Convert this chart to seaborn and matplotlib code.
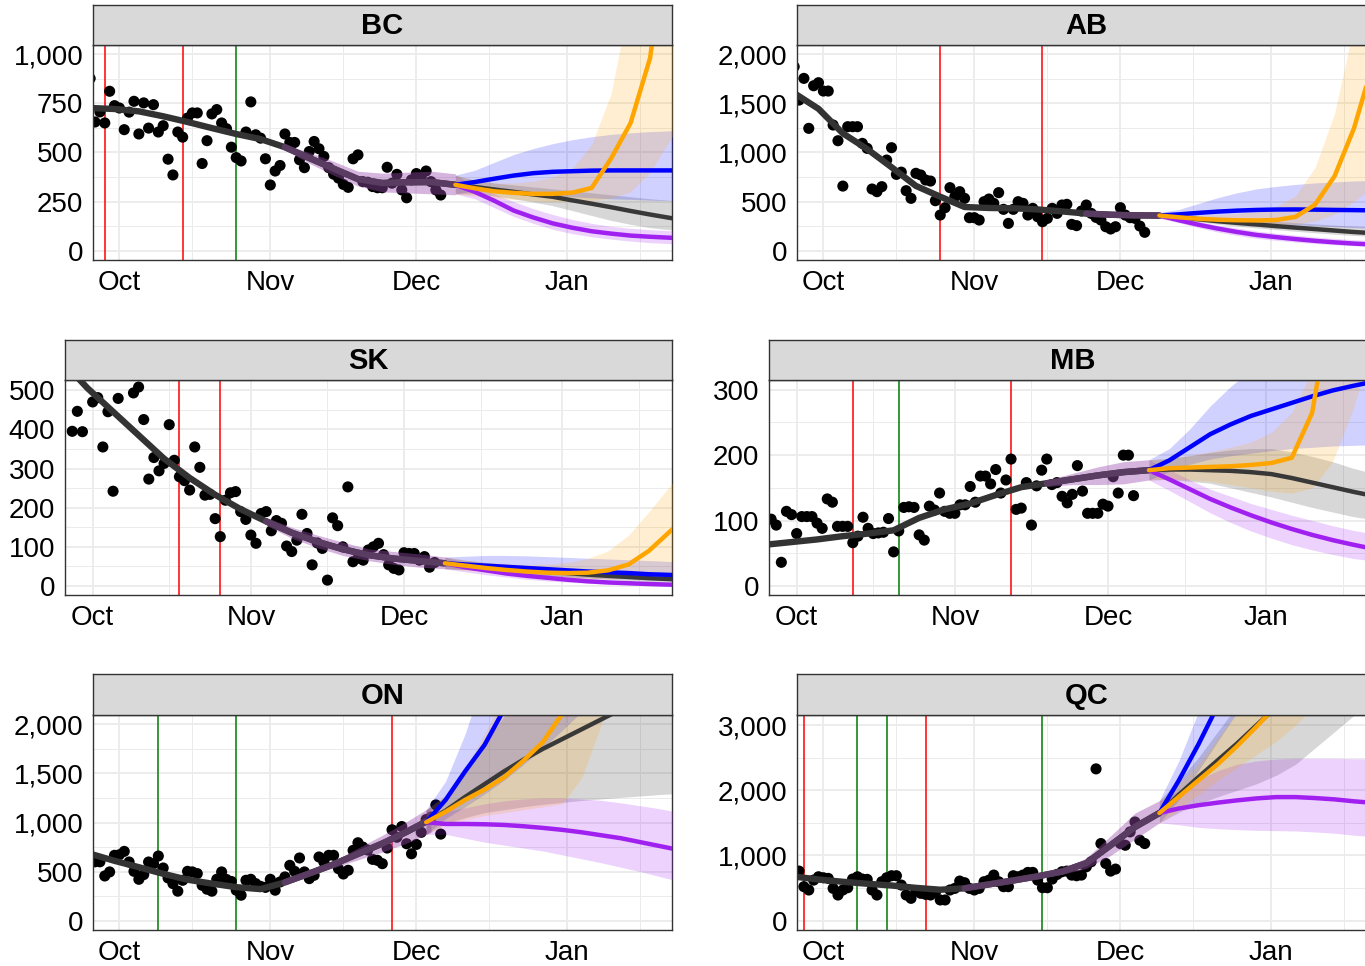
import numpy as np
import pandas as pd
import matplotlib
matplotlib.use("Agg")
import matplotlib.pyplot as plt
import matplotlib.dates as mdates
from matplotlib.ticker import FuncFormatter, MultipleLocator
import seaborn as sns

nan = np.nan

PROVINCES = ["BC", "AB", "SK", "MB", "ON", "QC"]

# daily cases, one value per day starting 2021-09-25 (nan = no report)
PTS_START = "2021-09-25"
BC_PTS = [876, 655, 706, 650, 811, 738,
          726, 616, 705, 760, 594, 752, 624, 743, 604, 636, 466, 386, 604, 578, 675, 701,
          701, 444, 560, 696, 718, 650, 621, 527, 474, 457, 604, 757, 590, 573, 468,
          335, 406, 434, 594, 551, 551, 463, 423, 505, 556, 519, 480, 423, 390, 370,
          338, 323, 468, 488, 352, 349, 327, 321, 321, 425, 344, 389, 310, 270, 361,
          393, 378, 406, 352, 310, 284]
AB_PTS = [1874, 1534, 1755, 1246, 1680, 1711,
          1626, 1626, 1280, 1120, 658, 1263, 1263, 1263, 1093, 1042, 628, 601, 652, 923, 1049,
          777, 800, 611, 533, 788, 771, 720, 709, 509, 363, 438, 642, 550, 601, 533, 336,
          336, 312, 499, 526, 482, 591, 421, 278, 421, 499, 482, 363, 431, 346, 295,
          329, 431, 380, 465, 472, 268, 255, 404, 465, 380, 339, 312, 244, 221, 244,
          438, 363, 336, 329, 251, 187]
SK_PTS = [nan, nan, 395, 446, 394, nan,
          470, 481, 355, 445, 242, 479, nan, nan, 493, 508, 425, 273, 328, 294, 313,
          412, 321, 279, 269, 245, 355, 303, 232, 234, 172, 126, 219, 238, 241, 190, 170,
          130, 109, 185, 190, 141, 167, 160, 102, 88, 117, 183, 134, 54, 110, 96,
          15, 174, 154, 100, 253, 62, 71, 66, 92, 100, 109, 80, 54, 45, 41,
          85, 83, 83, 66, 75, 48, 60]
MB_PTS = [nan, 102, 93, 36, 114, 109,
          80, 106, 106, 106, 96, 88, 133, 128, 91, 91, 91, 66, 76, 105, 88,
          80, 81, 82, 103, 52, 84, 120, 121, 120, 78, 70, 122, 116, 142, 114, 111,
          111, 124, 124, 152, 128, 168, 168, 156, 178, 142, 162, 194, 117, 119, 158,
          93, 153, 177, 194, 155, 158, 137, 127, 140, 184, 145, 111, 111, 111, 125,
          122, 167, 142, 200, 200, 138]
ON_PTS = [nan, 600, 600, 456, 497, 666,
          672, 706, 598, 503, 422, 470, 598, 581, 659, 537, 436, 378, 301, 412, 503,
          497, 480, 361, 321, 301, 422, 497, 420, 400, 311, 260, 412, 422, 378, 350, 340,
          422, 311, 395, 446, 564, 503, 639, 497, 429, 463, 649, 598, 666, 666, 530,
          476, 514, 716, 794, 750, 720, 625, 615, 581, 740, 926, 850, 959, 784, 682,
          777, 900, 1030, 1054, 1179, 882]
QC_PTS = [nan, 759, 520, 469, 621, 672,
          657, 647, 494, 392, 469, 504, 637, 672, 637, 632, 469, 392, 596, 657, 688,
          688, 545, 392, 341, 453, 418, 402, 392, 433, 316, 316, 469, 494, 606, 581, 494,
          469, 494, 596, 621, 698, 596, 520, 520, 688, 672, 698, 739, 739, 621, 504,
          504, 637, 708, 749, 759, 698, 688, 698, 825, 902, 2328, 1182, 876, 759, 790,
          1182, 1156, 1360, 1513, 1233, 1182]

# fitted curve over the observed period
FIT_DATES = ["2021-09-25", "2021-09-30", "2021-10-05", "2021-10-10", "2021-10-15",
             "2021-10-20", "2021-10-25", "2021-10-30", "2021-11-04", "2021-11-09",
             "2021-11-14", "2021-11-19", "2021-11-24", "2021-11-29", "2021-12-04",
             "2021-12-09"]
BC_FIT = [726, 721, 709, 684, 655, 624, 594, 568, 527, 472, 418, 365, 345, 349, 350, 336]
AB_FIT = [1605, 1445, 1195, 1035, 850, 660, 550, 445, 435, 432, 420, 400, 378, 366, 360, 358]
SK_FIT = [575, 505, 445, 385, 325, 276, 233, 196, 165, 136, 113, 94, 79, 70, 64, 58]
MB_FIT = [63, 67, 71, 76, 80, 85, 104, 117, 126, 139, 151, 157, 163, 169, 174, 177]
ON_FIT = [682, 610, 545, 478, 418, 378, 342, 322, 391, 481, 574, 680, 786, 905, 1035, nan]
QC_FIT = [675, 630, 595, 565, 538, 502, 473, 495, 555, 615, 679, 752, 880, 1156, 1436, 1650]

# scenario fits overlapping the end of the observed period (aligned to the tail of FIT_DATES)
BC_BAND_LO = [515, 445, 385, 330, 300, 295, 290, 285]
BC_BAND_HI = [540, 500, 455, 405, 395, 400, 405, 392]
AB_BAND_LO = [360, 345, 335, 330]
AB_BAND_HI = [395, 388, 388, 390]
SK_BAND_LO = [155, 122, 98, 78, 65, 55, 48, 44]
SK_BAND_HI = [175, 150, 130, 112, 95, 88, 82, 74]
MB_BAND_LO = [152, 155, 155, 156, 162]
MB_BAND_HI = [162, 172, 182, 190, 193]
ON_BAND_LO = [380, 460, 540, 620, 700, 790, 900, nan]
ON_BAND_HI = [400, 500, 610, 740, 870, 1010, 1160, nan]
QC_BAND_LO = [485, 540, 595, 645, 710, 800, 1000, 1250, 1500]
QC_BAND_HI = [505, 570, 640, 715, 800, 960, 1300, 1650, 1840]

# projections
PROJ_DATES = ["2021-12-09", "2021-12-13", "2021-12-17", "2021-12-21", "2021-12-25",
              "2021-12-29", "2022-01-02", "2022-01-06", "2022-01-10", "2022-01-14",
              "2022-01-18", "2022-01-23"]
ON_PROJ_DATES = ["2021-12-03", "2021-12-07", "2021-12-11", "2021-12-15", "2021-12-19",
                 "2021-12-23", "2021-12-27", "2021-12-31", "2022-01-04", "2022-01-08",
                 "2022-01-12", "2022-01-16", "2022-01-20", "2022-01-24"]

BC_BLUE = [336, 350, 367, 383, 395, 402, 405, 408, 409, 409, 409, 409]
BC_BLUE_LO = [290, 305, 305, 300, 290, 282, 275, 270, 265, 262, 258, 255]
BC_BLUE_HI = [385, 410, 450, 490, 520, 545, 565, 580, 592, 600, 606, 611]
BC_ORANGE = [336, 318, 303, 295, 290, 290, 296, 320, 470, 650, 980, 1900]
BC_ORANGE_LO = [290, 280, 270, 262, 255, 250, 250, 255, 270, 300, 400, 600]
BC_ORANGE_HI = [385, 360, 345, 345, 355, 375, 420, 540, 800, 1300, 2000, 3000]
BC_PURPLE = [336, 300, 255, 205, 170, 140, 118, 100, 88, 78, 72, 66]
BC_PURPLE_LO = [290, 265, 220, 175, 140, 110, 88, 72, 60, 50, 42, 36]
BC_PURPLE_HI = [385, 335, 290, 250, 215, 185, 160, 140, 125, 115, 108, 102]
BC_GREY = [336, 325, 312, 300, 287, 275, 257, 240, 222, 203, 185, 164]
BC_GREY_LO = [290, 290, 280, 265, 248, 230, 205, 180, 155, 135, 118, 105]
BC_GREY_HI = [385, 360, 345, 335, 325, 315, 305, 295, 285, 275, 265, 255]

AB_BLUE = [358, 370, 385, 398, 408, 415, 419, 420, 418, 415, 413, 410]
AB_BLUE_LO = [330, 328, 318, 305, 295, 285, 275, 265, 255, 245, 235, 225]
AB_BLUE_HI = [390, 420, 480, 540, 590, 630, 655, 675, 690, 700, 710, 716]
AB_ORANGE = [358, 340, 325, 315, 310, 308, 312, 345, 470, 760, 1250, 2100]
AB_ORANGE_LO = [330, 315, 300, 285, 275, 265, 262, 270, 300, 370, 500, 700]
AB_ORANGE_HI = [390, 370, 362, 365, 380, 400, 450, 560, 850, 1400, 2300, 3500]
AB_PURPLE = [358, 310, 265, 225, 190, 160, 138, 118, 100, 85, 72, 60]
AB_PURPLE_LO = [330, 285, 235, 190, 155, 125, 105, 88, 72, 60, 50, 42]
AB_PURPLE_HI = [390, 335, 295, 260, 230, 200, 178, 158, 140, 125, 112, 100]
AB_GREY = [358, 340, 320, 300, 283, 267, 250, 235, 220, 205, 190, 175]
AB_GREY_LO = [330, 315, 295, 270, 250, 232, 215, 198, 182, 168, 155, 143]
AB_GREY_HI = [390, 368, 352, 338, 325, 312, 298, 285, 272, 260, 250, 240]

SK_BLUE = [58, 55, 52, 49, 46, 43, 40, 37, 35, 33, 30, 28]
SK_BLUE_LO = [44, 42, 38, 33, 29, 26, 23, 21, 19, 18, 16, 15]
SK_BLUE_HI = [74, 76, 78, 78, 77, 75, 73, 71, 69, 67, 65, 62]
SK_ORANGE = [58, 52, 46, 41, 37, 34, 33, 34, 40, 55, 90, 150]
SK_ORANGE_LO = [44, 40, 36, 32, 27, 23, 20, 18, 18, 20, 25, 35]
SK_ORANGE_HI = [74, 66, 60, 57, 55, 56, 60, 70, 90, 130, 190, 270]
SK_PURPLE = [58, 48, 40, 32, 26, 21, 16, 12, 9, 7, 5, 3]
SK_PURPLE_LO = [44, 36, 29, 23, 17, 13, 10, 7, 5, 3, 2, 1]
SK_PURPLE_HI = [74, 60, 50, 41, 34, 28, 23, 19, 15, 12, 10, 8]
SK_GREY = [58, 53, 48, 44, 40, 36, 33, 29, 26, 23, 20, 17]
SK_GREY_LO = [44, 42, 38, 35, 31, 27, 23, 20, 17, 14, 11, 9]
SK_GREY_HI = [74, 66, 60, 55, 50, 47, 44, 41, 38, 35, 32, 30]

MB_BLUE = [177, 192, 212, 232, 247, 260, 270, 280, 290, 299, 306, 314]
MB_BLUE_LO = [162, 175, 186, 194, 199, 203, 207, 210, 212, 214, 215, 216]
MB_BLUE_HI = [193, 210, 240, 275, 305, 330, 355, 375, 395, 415, 435, 455]
MB_ORANGE = [177, 180, 181, 182, 183, 185, 188, 196, 265, 450, 700, 1000]
MB_ORANGE_LO = [162, 163, 162, 160, 155, 150, 145, 142, 150, 190, 270, 400]
MB_ORANGE_HI = [193, 195, 200, 205, 212, 220, 235, 265, 330, 480, 700, 1000]
MB_PURPLE = [177, 163, 148, 133, 120, 108, 97, 87, 78, 70, 63, 55]
MB_PURPLE_LO = [162, 146, 129, 112, 97, 84, 73, 63, 55, 48, 42, 37]
MB_PURPLE_HI = [193, 178, 162, 148, 137, 126, 117, 108, 100, 92, 85, 78]
MB_GREY = [177, 178, 178, 177, 176, 174, 171, 165, 158, 151, 144, 136]
MB_GREY_LO = [162, 163, 160, 157, 150, 143, 136, 128, 120, 113, 106, 100]
MB_GREY_HI = [193, 195, 199, 204, 208, 210, 210, 205, 198, 190, 180, 170]

ON_BLUE = [1003, 1230, 1520, 1790, 2150, 2550, 3000, 3500, 4000, 4600, 5200, 5900, 6600, 7400]
ON_BLUE_LO = [880, 1040, 1160, 1290, 1430, 1590, 1760, 1940, 2130, 2330, 2540, 2760, 3000, 3250]
ON_BLUE_HI = [1130, 1420, 1900, 2500, 3100, 3800, 4600, 5400, 6200, 7000, 7800, 8600, 9400, 10200]
ON_ORANGE = [1003, 1110, 1230, 1335, 1460, 1630, 1820, 2110, 2450, 2850, 3300, 3800, 4300, 4900]
ON_ORANGE_LO = [880, 980, 1030, 1070, 1100, 1130, 1160, 1190, 1460, 2000, 2700, 3400, 4100, 4800]
ON_ORANGE_HI = [1130, 1280, 1550, 1900, 2300, 2750, 3250, 3800, 4400, 5000, 5600, 6200, 6800, 7400]
ON_PURPLE = [1003, 985, 985, 982, 975, 962, 945, 925, 900, 870, 840, 800, 760, 720]
ON_PURPLE_LO = [880, 880, 840, 800, 770, 740, 710, 670, 630, 590, 545, 500, 450, 400]
ON_PURPLE_HI = [1130, 1110, 1150, 1190, 1220, 1240, 1250, 1250, 1240, 1225, 1200, 1170, 1140, 1100]
ON_GREY = [1003, 1120, 1260, 1390, 1520, 1640, 1750, 1850, 1950, 2050, 2150, 2250, 2350, 2450]
ON_GREY_LO = [880, 990, 1050, 1100, 1130, 1160, 1185, 1205, 1225, 1240, 1255, 1270, 1285, 1295]
ON_GREY_HI = [1130, 1270, 1520, 1800, 2080, 2400, 2700, 3000, 3300, 3600, 3900, 4200, 4500, 4800]

QC_BLUE = [1650, 2150, 2700, 3300, 4000, 4800, 5700, 6700, 7800, 9000, 10300, 12000]
QC_BLUE_LO = [1500, 1850, 2300, 2750, 3200, 3700, 4300, 5000, 5800, 6600, 7500, 8500]
QC_BLUE_HI = [1840, 2450, 3200, 4000, 5000, 6000, 7200, 8500, 10000, 11500, 13000, 15000]
QC_ORANGE = [1650, 1900, 2150, 2400, 2680, 2980, 3300, 3650, 4000, 4400, 4800, 5300]
QC_ORANGE_LO = [1500, 1700, 1930, 2150, 2350, 2550, 2750, 3000, 3300, 3600, 3900, 4300]
QC_ORANGE_HI = [1840, 2100, 2400, 2800, 3200, 3600, 4000, 4500, 5000, 5500, 6000, 6600]
QC_PURPLE = [1650, 1720, 1770, 1810, 1845, 1875, 1895, 1895, 1880, 1860, 1830, 1800]
QC_PURPLE_LO = [1500, 1470, 1430, 1410, 1395, 1385, 1380, 1375, 1360, 1340, 1310, 1280]
QC_PURPLE_HI = [1840, 1990, 2160, 2300, 2400, 2450, 2480, 2490, 2490, 2490, 2485, 2480]
QC_GREY = [1650, 1930, 2200, 2460, 2720, 3000, 3280, 3600, 3950, 4300, 4700, 5100]
QC_GREY_LO = [1500, 1660, 1790, 1900, 2000, 2100, 2230, 2400, 2650, 2900, 3150, 3500]
QC_GREY_HI = [1840, 2150, 2500, 2900, 3300, 3700, 4100, 4500, 4900, 5300, 5700, 6100]

# policy dates (red = restriction, green = easing)
BC_RED, BC_GREEN = ["2021-09-28", "2021-10-14"], ["2021-10-25"]
AB_RED, AB_GREEN = ["2021-10-25", "2021-11-15"], []
SK_RED, SK_GREEN = ["2021-10-18", "2021-10-26"], []
MB_RED, MB_GREEN = ["2021-10-12", "2021-11-12"], ["2021-10-21"]
ON_RED, ON_GREEN = ["2021-11-26"], ["2021-10-09", "2021-10-25"]
QC_RED, QC_GREEN = ["2021-09-27", "2021-10-22"], ["2021-10-08", "2021-10-14", "2021-11-15"]

# y range and tick step per panel
Y_LIMS = {"BC": (-46, 1046), "AB": (-95, 2095), "SK": (-23, 526),
          "MB": (-14, 315), "ON": (-94, 2094), "QC": (-145, 3155)}
Y_STEP = {"BC": 250, "AB": 500, "SK": 100, "MB": 100, "ON": 500, "QC": 1000}

# ---- build tables ---------------------------------------------------------
g = globals()
SCEN = [("GREY", "#383838", 0.20), ("PURPLE", "#A020F0", 0.20),
        ("BLUE", "#0000FF", 0.18), ("ORANGE", "#FFA500", 0.18)]

sns.set_style("white")
plt.rcParams["font.family"] = ["Liberation Sans", "DejaVu Sans"]

W, H = 1365, 966
fig = plt.figure(figsize=(W / 100, H / 100), dpi=100)

# left, right, strip top, panel top, panel bottom (pixels)
BOXES = {"BC": (93, 672, 5, 45, 260), "AB": (797, 1376, 5, 45, 260),
         "SK": (65, 672, 340, 380, 595), "MB": (769, 1376, 340, 380, 595),
         "ON": (93, 672, 674, 715, 930), "QC": (797, 1376, 674, 715, 930)}

XMIN = pd.Timestamp("2021-09-25 14:00")
XMAX = pd.Timestamp("2022-01-22 12:00")
fit_dates = pd.to_datetime(FIT_DATES)

for p in PROVINCES:
    l, r, st, pt, pb = BOXES[p]
    ax = fig.add_axes([l / W, 1 - pb / H, (r - l) / W, (pb - pt) / H])
    sax = fig.add_axes([l / W, 1 - pt / H, (r - l) / W, (pt - st) / H])

    pts = pd.DataFrame({"cases": g[p + "_PTS"]})
    pts["date"] = pd.date_range(PTS_START, periods=len(pts), freq="D")
    pdates = pd.to_datetime(ON_PROJ_DATES if p == "ON" else PROJ_DATES)

    for d in g[p + "_RED"]:
        ax.axvline(pd.Timestamp(d), color="#FF0000", lw=1.1, zorder=1)
    for d in g[p + "_GREEN"]:
        ax.axvline(pd.Timestamp(d), color="#007A00", lw=1.1, zorder=1)

    sns.scatterplot(data=pts.dropna(), x="date", y="cases", ax=ax, color="black",
                    s=64, edgecolor="none", zorder=2, legend=False)

    # overlapping scenario fits
    blo, bhi = g[p + "_BAND_LO"], g[p + "_BAND_HI"]
    bd = fit_dates[-len(blo):]
    ax.fill_between(bd, blo, bhi, color="#9C4FB0", alpha=0.42, lw=0, zorder=3)

    for name, col, a in SCEN:
        ax.fill_between(pdates, g[f"{p}_{name}_LO"], g[f"{p}_{name}_HI"],
                        color=col, alpha=a, lw=0, zorder=3)

    fit = np.array(g[p + "_FIT"], dtype=float)
    sns.lineplot(x=fit_dates, y=fit, ax=ax, color="#333333", lw=4.6,
                 estimator=None, sort=False, zorder=4)
    ov = fit[-len(blo):]
    sns.lineplot(x=bd, y=ov, ax=ax, color="#5A3C62", lw=4.6,
                 estimator=None, sort=False, zorder=4)

    for name, col, a in SCEN:
        sns.lineplot(x=pdates, y=g[f"{p}_{name}"], ax=ax, color=col, lw=3.2,
                     estimator=None, sort=False, zorder=5)

    # axes styling (ggplot theme_bw look)
    ax.set_xlim(XMIN, XMAX)
    ax.set_ylim(*Y_LIMS[p])
    step = Y_STEP[p]
    ax.yaxis.set_major_locator(MultipleLocator(step))
    ax.yaxis.set_minor_locator(MultipleLocator(step / 2))
    ax.yaxis.set_major_formatter(FuncFormatter(lambda v, _: f"{v:,.0f}"))
    ax.xaxis.set_major_locator(mdates.MonthLocator())
    ax.xaxis.set_minor_locator(mdates.MonthLocator(bymonthday=16))
    ax.xaxis.set_major_formatter(mdates.DateFormatter("%b"))
    ax.grid(which="major", color="#EBEBEB", lw=1.3)
    ax.grid(which="minor", color="#EBEBEB", lw=0.7)
    ax.set_axisbelow(True)
    ax.tick_params(which="major", length=4, width=1, color="#333333",
                   labelsize=20, labelcolor="black", pad=3)
    ax.tick_params(which="minor", length=0)
    ax.set_xlabel("")
    ax.set_ylabel("")
    for sp in ax.spines.values():
        sp.set_color("#333333")
        sp.set_linewidth(1.0)

    sax.set_facecolor("#D9D9D9")
    sax.set_xticks([])
    sax.set_yticks([])
    for sp in sax.spines.values():
        sp.set_color("#333333")
        sp.set_linewidth(1.0)
    sax.text(0.5, 0.47, p, transform=sax.transAxes, ha="center", va="center",
             fontsize=21, fontweight="bold", color="black")

fig.savefig("out.png", dpi=100)
